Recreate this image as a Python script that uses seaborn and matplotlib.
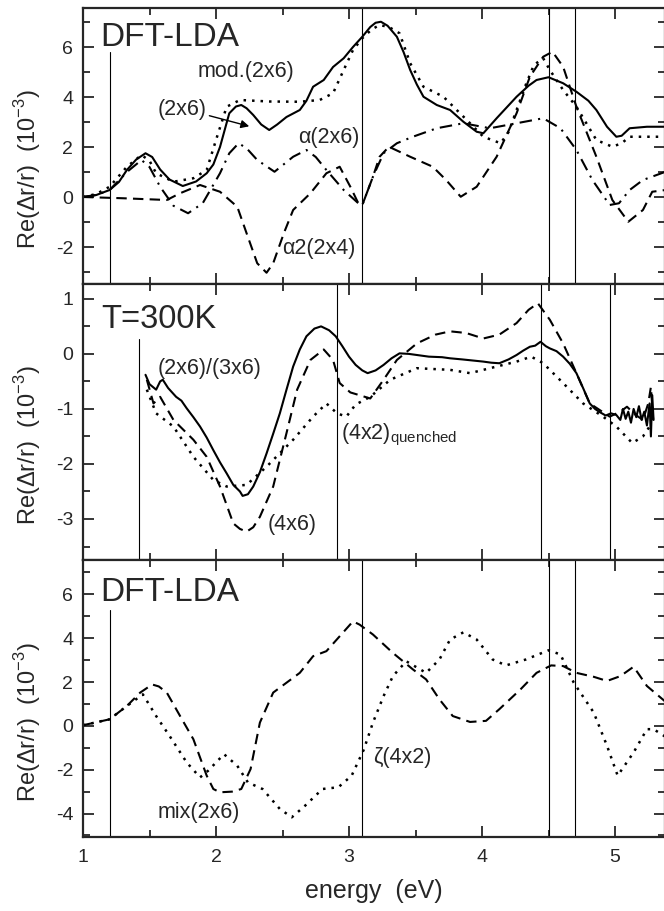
import numpy as np
import pandas as pd
import seaborn as sns
import matplotlib
matplotlib.use('Agg')
from matplotlib import pyplot as plt
from matplotlib.ticker import MultipleLocator

# ---- top panel: DFT-LDA ----
e_2x6 = [1.0, 1.1, 1.2, 1.27, 1.33, 1.4, 1.47, 1.52, 1.58, 1.65, 1.75, 1.85, 1.93, 1.98, 2.03, 2.1, 2.15, 2.19,
         2.23, 2.28, 2.34, 2.4, 2.46, 2.53, 2.63, 2.68, 2.73, 2.81, 2.88, 2.96, 3.03, 3.1, 3.16, 3.2, 3.24, 3.29,
         3.36, 3.41, 3.46, 3.51, 3.56, 3.66, 3.76, 3.86, 3.96, 4.01, 4.11, 4.26, 4.35, 4.41, 4.5, 4.61, 4.71,
         4.8, 4.86, 4.94, 5.01, 5.05, 5.11, 5.24, 5.38]
r_2x6 = [0.0, 0.08, 0.28, 0.6, 1.08, 1.5, 1.75, 1.6, 1.1, 0.7, 0.44, 0.62, 0.95, 1.3, 2.0, 3.35, 3.62, 3.68,
         3.55, 3.28, 2.9, 2.68, 2.9, 3.2, 3.48, 3.85, 4.41, 4.68, 5.2, 5.55, 6.0, 6.41, 6.8, 6.97, 7.01, 6.85,
         6.41, 5.8, 5.08, 4.5, 4.01, 3.68, 3.48, 3.01, 2.61, 2.55, 3.15, 4.01, 4.45, 4.68, 4.79, 4.55, 4.21,
         3.85, 3.48, 2.81, 2.41, 2.45, 2.75, 2.81, 2.81]

e_mod = [1.0, 1.1, 1.2, 1.33, 1.44, 1.5, 1.55, 1.68, 1.83, 1.93, 2.0, 2.08, 2.18, 2.4, 2.63, 2.78, 2.88, 2.96,
         3.03, 3.1, 3.17, 3.23, 3.3, 3.38, 3.46, 3.56, 3.71, 3.81, 3.91, 4.01, 4.14, 4.2, 4.26, 4.33, 4.39,
         4.46, 4.51, 4.61, 4.71, 4.86, 4.98, 5.05, 5.11, 5.24, 5.38]
r_mod = [0.0, 0.12, 0.41, 1.21, 1.68, 1.45, 0.95, 0.61, 0.75, 1.08, 2.28, 3.61, 3.88, 3.82, 3.81, 3.88, 4.15,
         5.08, 5.88, 6.35, 6.7, 6.88, 6.8, 6.55, 5.35, 4.41, 4.01, 3.48, 2.95, 2.41, 2.15, 2.6, 3.48, 4.5,
         5.28, 5.55, 5.08, 4.28, 3.61, 2.28, 2.01, 2.15, 2.41, 2.41, 2.41]

e_a2x6 = [1.0, 1.1, 1.2, 1.33, 1.44, 1.5, 1.58, 1.68, 1.79, 1.9, 2.03, 2.1, 2.17, 2.23, 2.31, 2.44, 2.58, 2.68,
          2.75, 2.83, 2.96, 3.07, 3.1, 3.18, 3.26, 3.36, 3.48, 3.66, 3.86, 4.06, 4.26, 4.46, 4.59, 4.71, 4.83,
          4.96, 5.03, 5.11, 5.21, 5.38]
r_a2x6 = [0.0, 0.08, 0.28, 1.0, 1.48, 1.2, 0.41, -0.35, -0.65, -0.25, 0.95, 1.75, 2.15, 1.95, 1.48, 1.01, 1.61,
          1.88, 1.6, 1.08, 0.28, -0.25, -0.32, 0.81, 1.75, 2.15, 2.41, 2.75, 2.95, 2.75, 2.95, 3.15, 2.75, 1.88,
          0.68, -0.32, -0.25, 0.28, 0.68, 1.01]

e_a22x4 = [1.0, 1.3, 1.63, 1.73, 1.88, 2.03, 2.16, 2.23, 2.31, 2.38, 2.43, 2.51, 2.58, 2.71, 2.83, 2.93, 3.01,
           3.07, 3.1, 3.18, 3.23, 3.3, 3.46, 3.63, 3.73, 3.84, 3.96, 4.11, 4.26, 4.36, 4.46, 4.53, 4.61, 4.71,
           4.86, 4.98, 5.1, 5.21, 5.28, 5.38]
r_a22x4 = [0.0, -0.05, -0.12, 0.15, 0.48, 0.21, -0.39, -1.45, -2.65, -3.03, -2.65, -1.45, -0.52, 0.15, 0.95,
           1.21, 0.41, -0.25, -0.32, 0.81, 1.61, 2.01, 1.61, 1.21, 0.68, 0.01, 0.41, 1.61, 3.35, 4.81, 5.61,
           5.81, 5.21, 3.61, 1.61, -0.12, -0.99, -0.52, 0.21, 0.28]

# ---- middle panel: T=300K ----
e_exp1 = [1.47, 1.5, 1.52, 1.55, 1.58, 1.6, 1.64, 1.7, 1.74, 1.78, 1.83, 1.88, 1.93, 1.98, 2.03, 2.08, 2.13,
          2.18, 2.2, 2.24, 2.28, 2.33, 2.38, 2.43, 2.48, 2.53, 2.58, 2.63, 2.68, 2.74, 2.79, 2.85, 2.9, 2.95,
          3.0, 3.05, 3.1, 3.14, 3.2, 3.26, 3.32, 3.38, 3.45, 3.51, 3.6, 3.7, 3.76, 3.85, 3.93, 4.01, 4.07, 4.13,
          4.2, 4.26, 4.31, 4.36, 4.4, 4.44, 4.48, 4.51, 4.56, 4.61, 4.66, 4.71, 4.76, 4.81, 4.85, 4.88, 4.93,
          4.97, 5.01, 5.04, 5.06, 5.08, 5.1, 5.12, 5.14, 5.16, 5.18, 5.2, 5.22, 5.24, 5.26, 5.27, 5.28, 5.29]
r_exp1 = [-0.38, -0.55, -0.59, -0.65, -0.5, -0.47, -0.62, -0.78, -0.85, -0.99, -1.15, -1.32, -1.52, -1.75,
          -1.97, -2.17, -2.38, -2.5, -2.58, -2.55, -2.41, -2.15, -1.81, -1.45, -1.08, -0.65, -0.23, 0.08, 0.32,
          0.46, 0.5, 0.43, 0.32, 0.14, -0.05, -0.2, -0.3, -0.35, -0.3, -0.2, -0.08, 0.01, 0.0, -0.02, -0.05,
          -0.06, -0.08, -0.1, -0.12, -0.14, -0.16, -0.17, -0.1, -0.02, 0.06, 0.13, 0.15, 0.22, 0.14, 0.1, 0.05,
          -0.05, -0.18, -0.35, -0.62, -0.9, -1.0, -1.05, -1.12, -1.08, -1.11, -1.2, -1.0, -1.18, -1.05, -1.25,
          -1.0, -1.15, -0.95, -1.2, -1.05, -1.3, -0.9, -1.5, -0.75, -1.2]

e_exp2 = [1.48, 1.53, 1.58, 1.68, 1.83, 1.93, 2.03, 2.13, 2.18, 2.23, 2.28, 2.33, 2.43, 2.53, 2.61, 2.71, 2.81,
          2.88, 2.93, 3.01, 3.16, 3.26, 3.36, 3.51, 3.65, 3.76, 3.88, 4.01, 4.13, 4.26, 4.35, 4.42, 4.51, 4.61,
          4.71, 4.81, 4.96, 5.04, 5.09, 5.15, 5.21, 5.25, 5.27, 5.29]
r_exp2 = [-0.47, -0.9, -0.78, -1.2, -1.56, -1.87, -2.41, -3.08, -3.18, -3.23, -3.15, -2.96, -2.41, -1.44, -0.65,
          -0.11, 0.08, -0.11, -0.53, -0.7, -0.81, -0.47, -0.11, 0.19, 0.35, 0.41, 0.38, 0.28, 0.35, 0.56, 0.8,
          0.92, 0.62, 0.19, -0.35, -0.9, -1.14, -1.05, -0.96, -1.1, -1.2, -0.9, -0.6, -1.3]

e_exp3 = [1.48, 1.55, 1.68, 1.83, 1.98, 2.08, 2.23, 2.38, 2.58, 2.73, 2.83, 2.91, 2.98, 3.05, 3.16, 3.31, 3.51,
          3.76, 3.91, 4.06, 4.26, 4.37, 4.46, 4.61, 4.76, 4.91, 5.01, 5.13, 5.21, 5.26]
r_exp3 = [-0.65, -1.08, -1.32, -1.87, -2.29, -2.41, -2.38, -2.05, -1.56, -1.14, -0.9, -1.08, -1.14, -0.92,
          -0.78, -0.47, -0.26, -0.29, -0.35, -0.26, -0.14, -0.05, -0.17, -0.53, -0.9, -1.14, -1.32, -1.62, -1.5,
          -1.32]

# ---- bottom panel: DFT-LDA ----
e_b1 = [1.0, 1.2, 1.33, 1.43, 1.52, 1.57, 1.63, 1.73, 1.83, 1.93, 1.98, 2.03, 2.12, 2.19, 2.26, 2.33, 2.43,
        2.53, 2.63, 2.73, 2.83, 2.93, 3.03, 3.08, 3.18, 3.33, 3.48, 3.58, 3.68, 3.78, 3.91, 4.03, 4.13, 4.29,
        4.41, 4.52, 4.61, 4.71, 4.84, 4.94, 5.04, 5.14, 5.24, 5.38]
r_b1 = [0.03, 0.3, 0.91, 1.52, 1.89, 1.8, 1.52, 0.45, -0.61, -2.27, -2.88, -3.03, -3.0, -2.88, -1.97, 0.15,
        1.52, 1.97, 2.42, 3.18, 3.41, 4.09, 4.77, 4.62, 4.17, 3.33, 2.58, 2.12, 1.21, 0.45, 0.18, 0.23, 0.76,
        1.67, 2.42, 2.76, 2.73, 2.42, 2.24, 2.05, 2.27, 2.7, 1.82, 1.1]

e_b2 = [1.0, 1.2, 1.33, 1.45, 1.55, 1.65, 1.78, 1.88, 1.94, 2.06, 2.16, 2.24, 2.35, 2.48, 2.57, 2.67, 2.8, 2.92,
        3.02, 3.11, 3.18, 3.26, 3.33, 3.43, 3.58, 3.68, 3.76, 3.86, 3.96, 4.08, 4.18, 4.33, 4.5, 4.59, 4.69,
        4.84, 4.94, 5.02, 5.14, 5.24, 5.29, 5.38]
r_b2 = [0.03, 0.3, 0.91, 1.44, 0.45, -0.45, -1.67, -2.35, -2.05, -1.29, -1.82, -2.58, -2.88, -3.79, -4.17,
        -3.64, -2.88, -2.8, -2.27, -1.1, 0.15, 1.36, 2.27, 2.95, 2.42, 3.03, 3.94, 4.27, 3.94, 3.03, 2.76, 3.03,
        3.45, 3.26, 1.97, 0.61, -0.91, -2.27, -1.21, -0.15, -0.15, -0.5]

vlines_dft = [1.2, 3.1, 4.5, 4.7]
vlines_exp = [1.42, 2.91, 4.44, 4.96]

sns.set_style("ticks")
plt.rcParams['font.family'] = ['Liberation Sans', 'DejaVu Sans']
plt.rcParams['mathtext.fontset'] = 'custom'
plt.rcParams['mathtext.rm'] = 'Liberation Sans'
plt.rcParams['axes.unicode_minus'] = False

W, H = 664, 911
fig = plt.figure(figsize=(W / 100, H / 100), dpi=100)

left = 83 / W
width = (665 - 83) / W
rows = [(8, 284), (284, 560), (560, 837)]
axes = []
for top, bot in rows:
    ax = fig.add_axes([left, 1 - bot / H, width, (bot - top) / H])
    axes.append(ax)
ax1, ax2, ax3 = axes

solid = '-'
dashed = (0, (5, 3))
dotted = (0, (1, 2.4))
dashdot = (0, (6, 3, 1, 3))

def curve(ax, e, r, ls):
    df = pd.DataFrame({'E': e, 'R': r})
    lw = 1.8 if ls == dotted else 1.5
    sns.lineplot(data=df, x='E', y='R', ax=ax, color='black', linestyle=ls, lw=lw,
                 sort=False, estimator=None)

curve(ax1, e_2x6, r_2x6, solid)
curve(ax1, e_mod, r_mod, dotted)
curve(ax1, e_a2x6, r_a2x6, dashdot)
curve(ax1, e_a22x4, r_a22x4, dashed)

curve(ax2, e_exp1, r_exp1, solid)
curve(ax2, e_exp2, r_exp2, dashed)
curve(ax2, e_exp3, r_exp3, dotted)

curve(ax3, e_b1, r_b1, dashed)
curve(ax3, e_b2, r_b2, dotted)

ylims = [(-3.48, 7.56), (-3.745, 1.27), (-5.07, 7.57)]
ymaj = [2, 1, 2]
for ax, yl, ym in zip(axes, ylims, ymaj):
    ax.set_xlim(1, 1 + (665 - 83) / 133)
    ax.set_ylim(*yl)
    ax.xaxis.set_major_locator(MultipleLocator(1))
    ax.xaxis.set_minor_locator(MultipleLocator(0.5))
    ax.yaxis.set_major_locator(MultipleLocator(ym))
    ax.yaxis.set_minor_locator(MultipleLocator(ym / 2))
    ax.tick_params(which='both', direction='in', top=True, right=True, width=1.3, labelsize=14)
    ax.tick_params(axis='x', pad=9)
    ax.tick_params(axis='y', pad=7)
    ax.tick_params(which='major', length=8)
    ax.tick_params(which='minor', length=5)
    for s in ax.spines.values():
        s.set_linewidth(1.6)
    ax.set_ylabel(r'Re($\Delta$r/r)  (10$^{-3}$)', fontsize=17)
    ax.yaxis.set_label_coords(-0.068, 0.415)
    ax.set_xlabel('')
for ax in (ax1, ax2):
    ax.tick_params(labelbottom=False)

for x in vlines_dft:
    ax1.axvline(x, ymin=0, ymax=0.84 if x == 1.2 else 1, color='black', lw=0.8)
    ax3.axvline(x, ymin=0, ymax=0.82 if x == 1.2 else 1, color='black', lw=0.8)
for x in vlines_exp:
    ax2.axvline(x, ymin=0, ymax=0.8 if x == 1.42 else 1, color='black', lw=0.8)

ax3.set_xlabel('energy  (eV)', fontsize=18, labelpad=9)

# annotations
fs = 15.5
ax1.text(1.13, 6.4, 'DFT-LDA', fontsize=24, va='center', ha='left')
ax1.text(1.86, 5.0, 'mod.(2x6)', fontsize=fs, va='center', ha='left')
ax1.text(1.56, 3.48, '(2x6)', fontsize=fs, va='center', ha='left')
ax1.annotate('', xy=(2.27, 2.8), xytext=(1.93, 3.28),
             arrowprops=dict(arrowstyle='-|>', color='black', lw=1.0, mutation_scale=12))
ax1.text(2.62, 2.4, 'α(2x6)', fontsize=fs, va='center', ha='left')
ax1.text(2.5, -2.05, 'α2(2x4)', fontsize=fs, va='center', ha='left')

ax2.text(1.14, 0.62, 'T=300K', fontsize=23.5, va='center', ha='left')
ax2.text(1.56, -0.27, '(2x6)/(3x6)', fontsize=fs, va='center', ha='left')
ax2.text(2.39, -3.1, '(4x6)', fontsize=fs, va='center', ha='left')
ax2.text(2.94, -1.47, r'(4x2)$_{\mathregular{quenched}}$', fontsize=fs, va='center', ha='left')

ax3.text(1.13, 6.1, 'DFT-LDA', fontsize=24, va='center', ha='left')
ax3.text(1.56, -3.93, 'mix(2x6)', fontsize=fs, va='center', ha='left')
ax3.text(3.18, -1.42, 'ζ(4x2)', fontsize=fs, va='center', ha='left')

fig.savefig('out.png', dpi=100)
